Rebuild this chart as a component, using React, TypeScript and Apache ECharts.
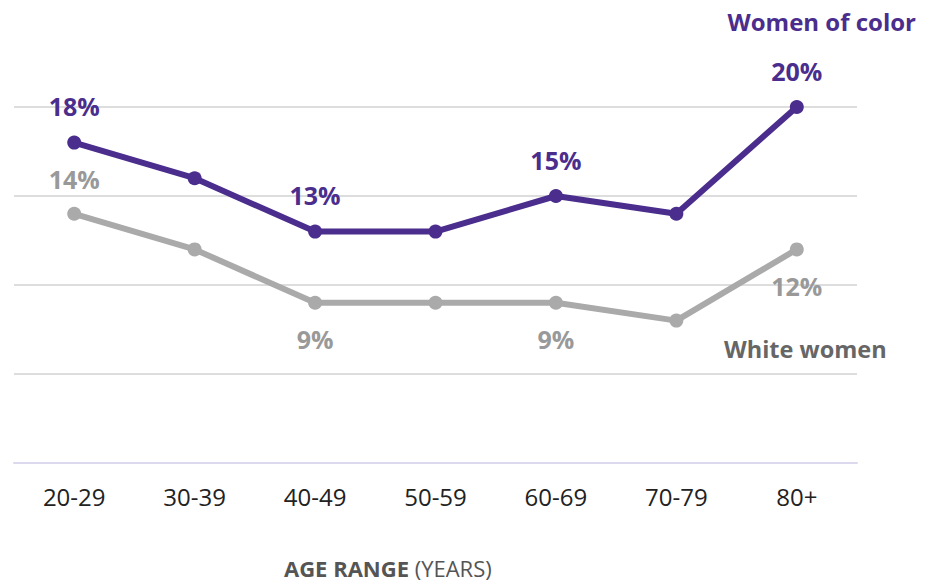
import React, { useEffect, useRef } from "react";
import * as echarts from "echarts";

const categories = ["20-29", "30-39", "40-49", "50-59", "60-69", "70-79", "80+"];
const womenOfColor = [18, 16, 13, 13, 15, 14, 20];
const whiteWomen = [14, 12, 9, 9, 9, 8, 12];
const wocLabelPos: (string | null)[] = ["top", null, "top", null, "top", null, "top"];
const whiteLabelPos: (string | null)[] = ["top", null, "bottom", null, "bottom", null, "bottom"];
const yTicks = [0, 5, 10, 15, 20];

const PURPLE = "#4a2d8c";
const GRAY_LINE = "#aaaaaa";
const GRAY_LABEL = "#999999";
const FONT = "'Open Sans', sans-serif";

function buildData(values: number[], pos: (string | null)[], color: string, topDist: number) {
  return values.map((v, i) => {
    const p = pos[i];
    if (!p) return { value: v, label: { show: false } };
    return {
      value: v,
      label: {
        show: true,
        position: p,
        distance: p === "top" ? topDist : 17,
        formatter: "{c}%",
        color,
        fontFamily: FONT,
        fontWeight: "bold",
        fontSize: 25,
      },
    };
  });
}

export default function App() {
  const ref = useRef<HTMLDivElement>(null);
  useEffect(() => {
    if (!ref.current) return;
    const chart = echarts.init(ref.current, null, { renderer: "svg" });
    chart.setOption({
      animation: false,
      backgroundColor: "#ffffff",
      grid: { left: 14, right: 79, top: 107, bottom: 120, containLabel: false },
      xAxis: {
        type: "category",
        data: categories,
        boundaryGap: true,
        axisLine: { show: true, lineStyle: { color: "#dcd8ee", width: 2 } },
        axisTick: { show: false },
        axisLabel: {
          color: "#222222",
          fontFamily: FONT,
          fontSize: 24,
          margin: 21,
        },
      },
      yAxis: {
        type: "value",
        min: yTicks[0],
        max: yTicks[yTicks.length - 1],
        interval: 5,
        axisLabel: { show: false },
        axisLine: { show: false },
        axisTick: { show: false },
        splitLine: { show: true, lineStyle: { color: "#dddddd", width: 2 } },
      },
      graphic: [
        {
          type: "text",
          x: 916,
          y: 21,
          style: {
            text: "Women of color",
            fill: PURPLE,
            font: `bold 24px ${FONT}`,
            align: "right",
            verticalAlign: "middle",
          },
        },
        {
          type: "text",
          x: 724,
          y: 349,
          style: {
            text: "White women",
            fill: "#666666",
            font: `bold 23.5px ${FONT}`,
            align: "left",
            verticalAlign: "middle",
          },
        },
        {
          type: "text",
          x: 284,
          y: 568,
          style: {
            text: "{b|AGE RANGE}{n| (YEARS)}",
            align: "left",
            verticalAlign: "middle",
            rich: {
              b: { fill: "#555555", fontFamily: FONT, fontWeight: "bold", fontSize: 22 },
              n: { fill: "#555555", fontFamily: FONT, fontSize: 22 },
            },
          },
        },
      ],
      series: [
        {
          name: "White women",
          type: "line",
          data: buildData(whiteWomen, whiteLabelPos, GRAY_LABEL, 15),
          symbol: "circle",
          symbolSize: 14,
          lineStyle: { color: GRAY_LINE, width: 6 },
          itemStyle: { color: GRAY_LINE },
          z: 2,
        },
        {
          name: "Women of color",
          type: "line",
          data: buildData(womenOfColor, wocLabelPos, PURPLE, 17),
          symbol: "circle",
          symbolSize: 14,
          lineStyle: { color: PURPLE, width: 6 },
          itemStyle: { color: PURPLE },
          z: 3,
        },
      ],
    });
    return () => chart.dispose();
  }, []);
  return (
    <div
      ref={ref}
      style={{ position: "absolute", left: 0, top: 0, width: 936, height: 583 }}
    />
  );
}
